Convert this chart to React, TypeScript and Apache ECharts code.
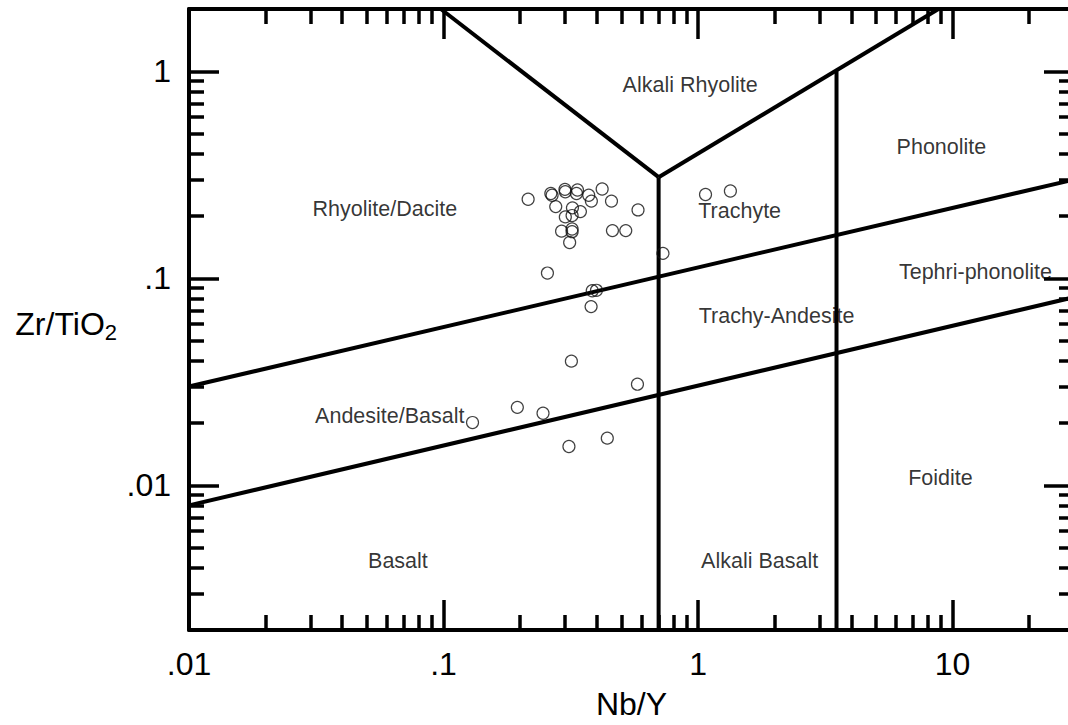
import React, { useEffect, useRef } from 'react';
import * as echarts from 'echarts';

const FONT = '"Liberation Sans", Arial, Helvetica, sans-serif';

// Sample data: Nb/Y (x) and Zr/TiO2 (y)
const nbY = [0.215, 0.264, 0.267, 0.300, 0.301, 0.336, 0.333, 0.372, 0.381, 0.420, 0.457, 0.276, 0.321, 0.345, 0.301, 0.320, 0.291, 0.320, 0.320, 0.313, 0.461, 0.520, 0.581, 0.728, 0.256, 0.384, 0.399, 0.380, 0.318, 0.578, 0.195, 0.246, 0.130, 0.440, 0.311, 1.07, 1.34];
const zrTiO2 = [0.241, 0.257, 0.252, 0.269, 0.262, 0.267, 0.257, 0.252, 0.236, 0.270, 0.236, 0.222, 0.219, 0.210, 0.198, 0.201, 0.169, 0.173, 0.168, 0.149, 0.170, 0.170, 0.214, 0.132, 0.106, 0.0871, 0.0875, 0.0730, 0.0398, 0.0308, 0.0238, 0.0223, 0.0201, 0.0169, 0.0154, 0.254, 0.264];

// Field boundaries (Nb/Y, Zr/TiO2)
const upperSlope = [[0.01, 0.030], [30, 0.30]];
const lowerSlope = [[0.01, 0.0080], [30, 0.081]];
const leftVertical = [[0.7, 0.002], [0.7, 0.308]];
const rightVertical = [[3.5, 0.002], [3.5, 1.0]];
const leftArm = [[0.7, 0.308], [0.0976, 2]];
const rightArm = [[0.7, 0.308], [8.8, 2]];

// Field names and their positions
const fieldNames = ['Alkali Rhyolite', 'Phonolite', 'Rhyolite/Dacite', 'Trachyte', 'Tephri-phonolite', 'Trachy-Andesite', 'Andesite/Basalt', 'Basalt', 'Alkali Basalt', 'Foidite'];
const fieldX = [0.931, 9.04, 0.0588, 1.457, 12.3, 2.035, 0.0615, 0.0662, 1.746, 8.96];
const fieldY = [0.863, 0.433, 0.2152, 0.2104, 0.107, 0.0656, 0.0216, 0.00431, 0.00431, 0.01084];

// Axis ticks
const xLabels = [0.01, 0.1, 1, 10];
const xMajorTicks = [0.1, 1, 10];
const xMinorTicks = [0.02, 0.03, 0.04, 0.05, 0.06, 0.07, 0.08, 0.09, 0.2, 0.3, 0.4, 0.5, 0.6, 0.7, 0.8, 0.9, 2, 3, 4, 5, 6, 7, 8, 9, 20];
const yLabels = [0.01, 0.1, 1];
const yMajorTicks = [0.01, 0.1, 1];
const yMinorTicks = [0.003, 0.004, 0.005, 0.006, 0.007, 0.008, 0.009, 0.02, 0.03, 0.04, 0.05, 0.06, 0.07, 0.08, 0.09, 0.2, 0.3, 0.4, 0.5, 0.6, 0.7, 0.8, 0.9];

const X_MIN = 0.01, X_MAX = 30, Y_MIN = 0.002, Y_MAX = 2;

const fmt = (v: number) => {
  const s = String(Number(Number(v).toPrecision(4)));
  return s.startsWith('0.') ? s.slice(1) : s;
};

const LW = 4;
const TW = 3.5;

function makeAxis(dim: 'x' | 'y', position: string, ticks: number[], len: number, labels: number[] | null, showLine: boolean, extra: any = {}) {
  return {
    type: 'log',
    logBase: 10,
    position,
    min: dim === 'x' ? X_MIN : Y_MIN,
    max: dim === 'x' ? X_MAX : Y_MAX,
    axisLine: { show: showLine, onZero: false, lineStyle: { color: '#000', width: LW } },
    axisTick: { show: true, inside: true, length: len, customValues: ticks, lineStyle: { color: '#000', width: TW } },
    minorTick: { show: false },
    splitLine: { show: false },
    axisLabel: labels
      ? { show: true, customValues: labels, formatter: fmt, fontSize: 32, fontFamily: FONT, color: '#000', margin: 18, showMinLabel: true, showMaxLabel: true }
      : { show: false },
    ...extra,
  };
}

function lineSeries(data: number[][]) {
  return {
    type: 'line',
    data,
    xAxisIndex: 0,
    yAxisIndex: 0,
    symbol: 'none',
    clip: true,
    silent: true,
    lineStyle: { color: '#000', width: LW },
    z: 3,
  };
}

export default function App() {
  const ref = useRef<HTMLDivElement>(null);
  useEffect(() => {
    const chart = echarts.init(ref.current!, null, { renderer: 'svg' });
    const option: any = {
      animation: false,
      backgroundColor: '#fff',
      grid: { left: 189, top: 9, width: 885, height: 621, containLabel: false, outerBoundsMode: 'none' },
      xAxis: [
        makeAxis('x', 'bottom', xMajorTicks, 30, xLabels, true, {
          name: 'Nb/Y', nameLocation: 'middle', nameGap: 58,
          nameTextStyle: { fontSize: 32, fontFamily: FONT, color: '#000' },
        }),
        makeAxis('x', 'bottom', xMinorTicks, 15, null, false),
        makeAxis('x', 'top', xMajorTicks, 30, null, true),
        makeAxis('x', 'top', xMinorTicks, 15, null, false),
      ],
      yAxis: [
        makeAxis('y', 'left', yMajorTicks, 30, yLabels, true, {
          name: '{a|Zr/TiO}{b|2}', nameLocation: 'middle', nameGap: 72, nameRotate: 0,
          nameTextStyle: {
            fontFamily: FONT, color: '#000', fontSize: 32,
            rich: {
              a: { fontSize: 32, fontFamily: FONT, color: '#000', lineHeight: 32, verticalAlign: 'top', padding: [4, 0, 0, 0] },
              b: { fontSize: 22, fontFamily: FONT, color: '#000', lineHeight: 22, verticalAlign: 'top', padding: [18, 0, 0, 0] },
            },
          },
        }),
        makeAxis('y', 'left', yMinorTicks, 15, null, false),
        makeAxis('y', 'right', yMajorTicks, 30, null, true),
        makeAxis('y', 'right', yMinorTicks, 15, null, false),
      ],
      series: [
        lineSeries(upperSlope),
        lineSeries(lowerSlope),
        lineSeries(leftVertical),
        lineSeries(rightVertical),
        lineSeries(leftArm),
        lineSeries(rightArm),
        {
          type: 'scatter',
          xAxisIndex: 0,
          yAxisIndex: 0,
          silent: true,
          data: fieldNames.map((n, i) => ({ name: n, value: [fieldX[i], fieldY[i]] })),
          symbol: 'circle',
          symbolSize: 1,
          itemStyle: { color: 'rgba(0,0,0,0)' },
          label: {
            show: true, position: 'inside', formatter: (p: any) => p.name,
            fontSize: 21.5, fontFamily: FONT, color: '#000',
          },
          z: 4,
        },
        {
          type: 'scatter',
          xAxisIndex: 0,
          yAxisIndex: 0,
          silent: true,
          data: nbY.map((x, i) => [x, zrTiO2[i]]),
          symbol: 'circle',
          symbolSize: 12,
          itemStyle: { color: 'rgba(255,255,255,0)', borderColor: '#111', borderWidth: 1.2 },
          z: 5,
        },
      ],
    };
    chart.setOption(option);
    return () => chart.dispose();
  }, []);
  return (
    <div
      ref={ref}
      style={{ position: 'fixed', left: 0, top: 0, width: 1068, height: 725, background: '#fff' }}
    />
  );
}
